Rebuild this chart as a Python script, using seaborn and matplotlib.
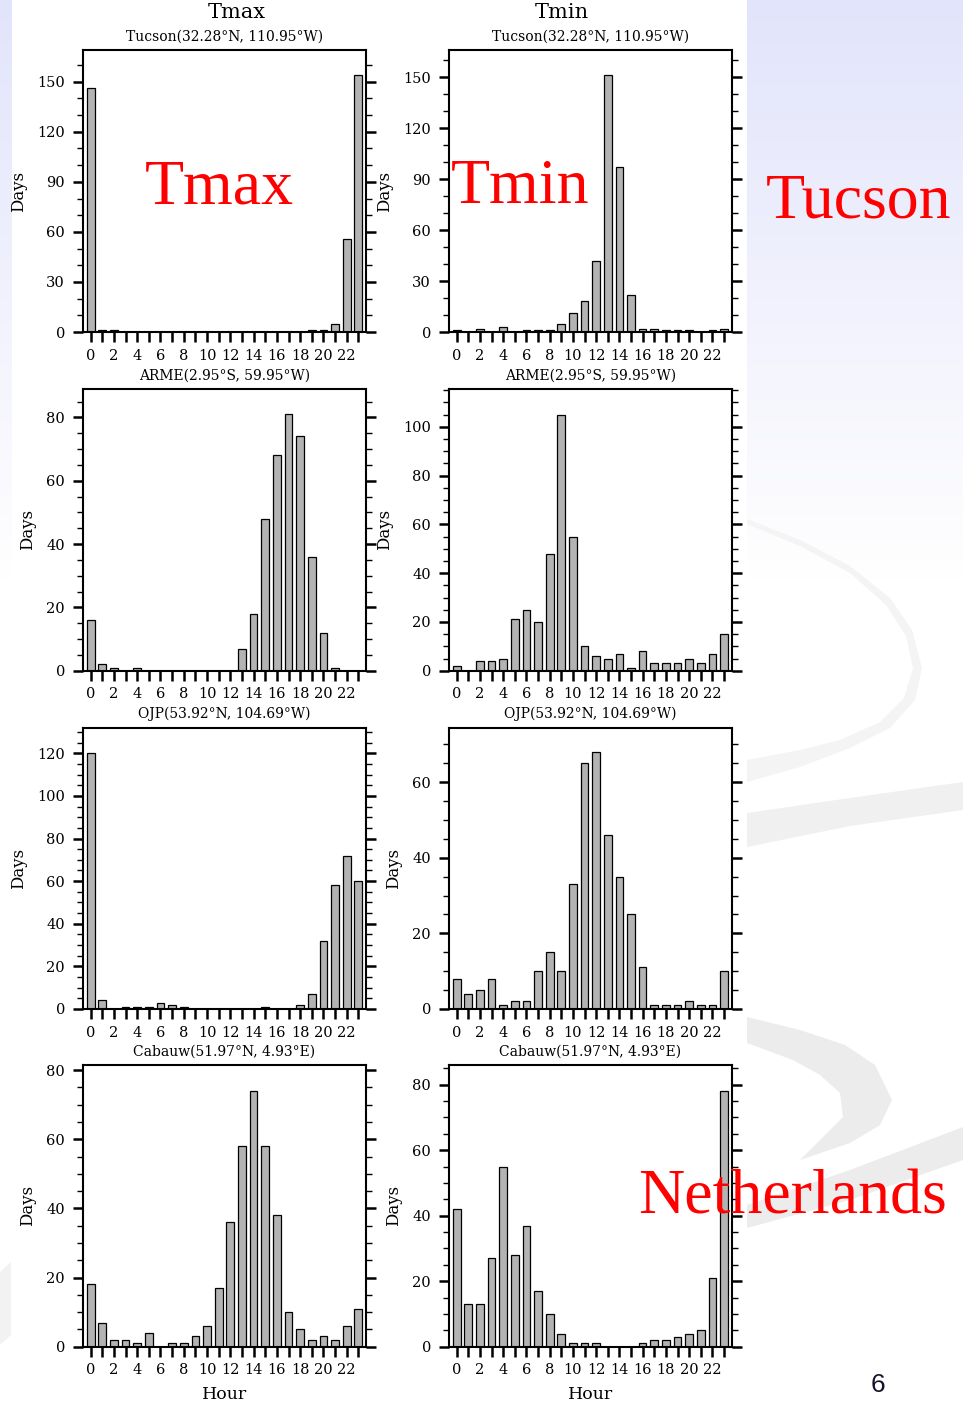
import matplotlib as mpl
mpl.use('Agg')
import matplotlib.pyplot as plt
from matplotlib.ticker import MultipleLocator
import numpy as np
import pandas as pd
import seaborn as sns

sns.set_theme(style='ticks')
plt.rcParams['font.family'] = ['DejaVu Serif']
for k in ['text.color', 'axes.labelcolor', 'xtick.color', 'ytick.color', 'axes.edgecolor']:
  plt.rcParams[k] = 'black'

# days per hour (UTC) when the daily extreme occurred
hours = list(range(24))
hour_labels = [str(h) if h % 2 == 0 else '' for h in hours]

tucson_tmax = [146, 1, 1, 0, 0, 0, 0, 0, 0, 0, 0, 0, 0, 0, 0, 0, 0, 0, 0, 1, 1, 5, 56, 154]
tucson_tmin = [1, 0, 2, 0, 3, 0, 1, 1, 1, 5, 11, 18, 42, 151, 97, 22, 2, 2, 1, 1, 1, 0, 1, 2]
arme_tmax = [16, 2, 1, 0, 1, 0, 0, 0, 0, 0, 0, 0, 0, 7, 18, 48, 68, 81, 74, 36, 12, 1, 0, 0]
arme_tmin = [2, 0, 4, 4, 5, 21, 25, 20, 48, 105, 55, 10, 6, 5, 7, 1, 8, 3, 3, 3, 5, 3, 7, 15]
ojp_tmax = [120, 4, 0, 1, 1, 1, 3, 2, 1, 0, 0, 0, 0, 0, 0, 1, 0, 0, 2, 7, 32, 58, 72, 60]
ojp_tmin = [8, 4, 5, 8, 1, 2, 2, 10, 15, 10, 33, 65, 68, 46, 35, 25, 11, 1, 1, 1, 2, 1, 1, 10]
cabauw_tmax = [18, 7, 2, 2, 1, 4, 0, 1, 1, 3, 6, 17, 36, 58, 74, 58, 38, 10, 5, 2, 3, 2, 6, 11]
cabauw_tmin = [42, 13, 13, 27, 55, 28, 37, 17, 10, 4, 1, 1, 1, 0, 0, 0, 1, 2, 2, 3, 4, 5, 21, 78]

stations = ['Tucson(32.28°N, 110.95°W)', 'ARME(2.95°S, 59.95°W)',
            'OJP(53.92°N, 104.69°W)', 'Cabauw(51.97°N, 4.93°E)']

# (col, row, values, ytop, major, minor)
panels = [
  (0, 0, tucson_tmax, 169, 30, 10),
  (1, 0, tucson_tmin, 166, 30, 10),
  (0, 1, arme_tmax, 89, 20, 5),
  (1, 1, arme_tmin, 115.5, 20, 5),
  (0, 2, ojp_tmax, 132, 20, 5),
  (1, 2, ojp_tmin, 74.4, 20, 5),
  (0, 3, cabauw_tmax, 81.5, 20, 5),
  (1, 3, cabauw_tmin, 86, 20, 5),
]

W, H = 963, 1404
col_x = [(83, 366), (449, 731.7)]
row_y = [(50, 332), (389, 670.7), (727.7, 1009), (1065, 1346.7)]

fig = plt.figure(figsize=(W / 100, H / 100), dpi=100)

# slide background: lavender gradient at the edges, white behind the plots
bg = fig.add_axes([0, 0, 1, 1], zorder=-5)
top = np.array([226, 228, 251]) / 255.0
t = np.clip(np.arange(H) / 580.0, 0, 1)[:, None, None]
img = top * (1 - t) + np.ones(3) * t
img = np.repeat(img, W, axis=1)
img[:, 12:747, :] = 1.0
bg.imshow(img, extent=(0, W, H, 0), aspect='auto', interpolation='bilinear')
bg.fill([747, 800, 850, 890, 912, 922, 915, 890, 850, 800, 747,
         747, 800, 840, 880, 904, 913, 906, 886, 850, 800, 747],
        [519, 540, 566, 598, 630, 668, 700, 728, 748, 767, 782,
         760, 750, 740, 722, 698, 668, 636, 605, 573, 546, 524], color='#f4f4f4', lw=0)
bg.fill([747, 850, 963, 963, 850, 747], [813, 798, 782, 810, 826, 847], color='#f0f0f0', lw=0)
bg.fill([747, 800, 845, 875, 892, 880, 850, 800, 843, 840, 820, 793, 747],
        [1017, 1030, 1045, 1065, 1100, 1125, 1143, 1160, 1117, 1093, 1075, 1060, 1043],
        color='#ececec', lw=0)
bg.fill([747, 850, 963, 963, 850, 747], [1205, 1170, 1127, 1160, 1200, 1228], color='#ececec', lw=0)
bg.fill([0, 11, 11, 0], [1272, 1262, 1335, 1345], color='#f2f2f2', lw=0)
bg.set_xlim(0, W)
bg.set_ylim(H, 0)
bg.axis('off')

for col, row, values, ytop, major, minor in panels:
  x0, x1 = col_x[col]
  y0, y1 = row_y[row]
  ax = fig.add_axes([x0 / W, 1 - y1 / H, (x1 - x0) / W, (y1 - y0) / H])
  df = pd.DataFrame({'hour': hours, 'days': values})
  sns.barplot(data=df, x='hour', y='days', ax=ax, color='#b3b3b3', saturation=1,
              edgecolor='black', linewidth=0.9, width=0.66, errorbar=None)
  ax.set_xlim(-0.66, 23.66)
  ax.set_ylim(0, ytop)
  ax.yaxis.set_major_locator(MultipleLocator(major))
  ax.yaxis.set_minor_locator(MultipleLocator(minor))
  ax.set_xticks(hours)
  ax.set_xticklabels(hour_labels)
  ax.tick_params(axis='x', which='major', direction='out', length=7, width=1.8, pad=5, labelsize=10.5)
  ax.tick_params(axis='y', which='major', direction='out', length=7, width=1.8, pad=6,
                 labelsize=10.5, right=True)
  ax.tick_params(axis='y', which='minor', direction='out', length=4, width=1, right=True)
  ax.set_ylabel('Days', fontsize=12, labelpad=7)
  ax.set_xlabel('Hour' if row == 3 else '', fontsize=12.5, labelpad=6)
  for s in ax.spines.values():
    s.set_visible(True)
    s.set_linewidth(1.5)
  ax.set_title(stations[row], fontsize=10, pad=7)

fig.text(237 / W, 1 - 12 / H, 'Tmax', fontsize=15, ha='center', va='center')
fig.text(562 / W, 1 - 12 / H, 'Tmin', fontsize=15, ha='center', va='center')

red = dict(color='red', fontsize=46, family='Liberation Serif', va='baseline', ha='left')
fig.text(145 / W, 1 - 204 / H, 'Tmax', **red)
fig.text(451 / W, 1 - 203 / H, 'Tmin', **red)
fig.text(766 / W, 1 - 217 / H, 'Tucson', **red)
fig.text(638 / W, 1 - 1213 / H, 'Netherlands', **red)

fig.text(878 / W, 1 - 1385 / H, '6', fontsize=19, family='Liberation Sans', color='#141428',
         ha='center', va='center')

fig.savefig('out.png', dpi=100)
